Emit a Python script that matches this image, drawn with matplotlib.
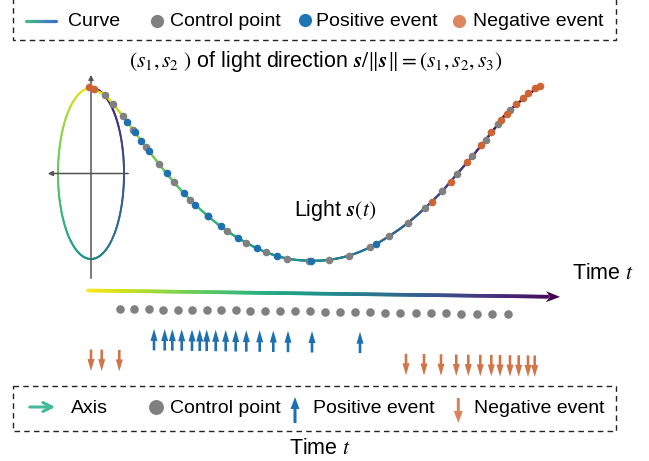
import matplotlib

matplotlib.use("Agg")
import matplotlib.pyplot as plt  # noqa: E402
import numpy as np  # noqa: E402
from matplotlib.collections import LineCollection  # noqa: E402
from matplotlib.colors import LinearSegmentedColormap  # noqa: E402
from matplotlib.patches import Polygon, Rectangle  # noqa: E402

plt.rcParams["font.family"] = ["Liberation Sans", "DejaVu Sans"]
plt.rcParams["mathtext.fontset"] = "stix"

# light path s(t): control points (pixel space of the sketch)
curve_x = [88, 104.7, 113, 123, 133.3, 145.7, 159, 173.7, 190, 207.5, 226.7, 246.3, 266.3, 287,
           308.7, 329, 349.3, 370, 389.3, 407.7, 425.3, 442, 457.3, 472.3, 485.7, 498.3, 510, 541]
curve_y = [87.5, 95, 104.3, 116.2, 130, 146.7, 164, 182, 199.5, 215.7, 230.7, 242.8, 252.3, 258.5,
           260.7, 259.8, 255.5, 247.3, 236, 223, 207.7, 191.3, 173.7, 156.3, 139.7, 124, 110, 84.5]

# events sitting on the curve
pos_x = [127, 135, 141.3, 149.2, 166.5, 183.5, 195.2, 207.5, 220.5, 237.8, 256.8, 276.7, 311, 375.7]
pos_y = [121.7, 132.3, 140.7, 151.3, 173.3, 193, 204.8, 215.7, 226.3, 238.3, 248.3, 255.8, 260.7, 244]
neg_x = [89.3, 94, 431.7, 450.7, 467, 481, 491.3, 501, 506.7, 515.7, 522.7, 528.3, 535, 540]
neg_y = [87.5, 88.7, 202, 182, 162, 145.3, 132.3, 120.3, 113.7, 103.7, 97.7, 92.7, 88.3, 85.7]

# time line: control points and event times
ctrl_t = [119.7, 134, 148.7, 163, 177.7, 192, 206.7, 221.3, 236, 250.3, 265.3, 280, 295, 310, 325,
          339.7, 355, 370.3, 385.3, 400.3, 415.7, 430.7, 446, 461.3, 477, 492.3, 508.3]
pos_t = [154, 164.7, 172.3, 181.7, 192, 199.7, 206.7, 215.7, 225.7, 235.7, 246.3, 259.7, 273.3,
         288, 312, 360]
neg_t = [91, 101.7, 119.3, 406, 424, 441, 456.3, 468.3, 480.3, 491.3, 500, 510, 518.7, 528, 534.7]

GRAY = "#808080"
BLUE = "#1f70b0"
ORANGE = "#cc6534"
cmap = plt.get_cmap("viridis_r")


def catmull_rom(xs, ys, n=30):
    p = np.column_stack([xs, ys]).astype(float)
    p = np.vstack([2 * p[0] - p[1], p, 2 * p[-1] - p[-2]])
    out, par = [], []
    for i in range(1, len(p) - 2):
        p0, p1, p2, p3 = p[i - 1], p[i], p[i + 1], p[i + 2]
        for u in np.linspace(0, 1, n, endpoint=False):
            u2, u3 = u * u, u * u * u
            pt = 0.5 * ((2 * p1) + (-p0 + p2) * u + (2 * p0 - 5 * p1 + 4 * p2 - p3) * u2
                        + (-p0 + 3 * p1 - 3 * p2 + p3) * u3)
            out.append(pt)
            par.append(i - 1 + u)
    out.append(p[-2])
    par.append(len(xs) - 1)
    return np.array(out), np.array(par) / (len(xs) - 1)


def gradient_line(ax, pts, vals, cm, lw, z=2):
    segs = np.stack([pts[:-1], pts[1:]], axis=1)
    lc = LineCollection(segs, colors=cm(vals[:-1]), linewidths=lw, capstyle="round", zorder=z)
    ax.add_collection(lc)


fig = plt.figure(figsize=(6.49, 4.61), dpi=100)
ax = fig.add_axes([0, 0, 1, 1])
ax.set_xlim(0, 649)
ax.set_ylim(461, 0)
ax.axis("off")

# (s1, s2) axes and projected ellipse
cx, cy, ea, eb = 91, 173.5, 33, 85.5
ax.annotate("", xy=(cx, 72), xytext=(cx, 281),
            arrowprops=dict(arrowstyle="-|>", color="#555555", lw=1.1, mutation_scale=7))
ax.annotate("", xy=(45, cy), xytext=(131, cy),
            arrowprops=dict(arrowstyle="-|>", color="#555555", lw=1.1, mutation_scale=7))
th = np.linspace(0, 2 * np.pi, 400)
ell = np.column_stack([cx - ea * np.sin(th), cy - eb * np.cos(th)])
gradient_line(ax, ell, th / (2 * np.pi), cmap, 1.4)

# curve s(t)
pts, par = catmull_rom(curve_x, curve_y)
gradient_line(ax, pts, par, cmap, 1.6, z=3)
ax.scatter(curve_x[1:-1], curve_y[1:-1], s=30, color=GRAY, lw=0, zorder=4)
ax.scatter(pos_x, pos_y, s=30, color=BLUE, lw=0, zorder=5)
ax.scatter(neg_x, neg_y, s=30, color=ORANGE, lw=0, zorder=5)

ax.text(316, 62, r"$(s_1, s_2\ )$ of light direction "
        r"$\boldsymbol{s}/\Vert\boldsymbol{s}\Vert = (s_1, s_2, s_3)$",
        ha="center", va="center", fontsize=15.5)
ax.text(294, 210, r"Light $\boldsymbol{s}(t)$", ha="left", va="center", fontsize=15.5)

# time axis (slightly tilted)
t0, y0, slope = 88, 290.5, 0.0135


def ty(x, off=0.0):
    return y0 + slope * (np.asarray(x) - t0) + off


tl_x = np.linspace(t0, 548, 300)
tl = np.column_stack([tl_x, ty(tl_x)])
gradient_line(ax, tl, (tl_x - t0) / (560 - t0), cmap, 2.6)
tip = np.array([560, ty(560)])
d = np.array([1, slope]) / np.hypot(1, slope)
nrm = np.array([-d[1], d[0]])
ax.add_patch(Polygon([tip, tip - 14 * d + 5.5 * nrm, tip - 10 * d, tip - 14 * d - 5.5 * nrm],
                     closed=True, color=cmap(1.0), lw=0, zorder=3))
ax.text(572, 273, r"Time $t$", ha="left", va="center", fontsize=15.5)

ax.scatter(ctrl_t, ty(ctrl_t, 18), s=38, color=GRAY, lw=0)
for x in pos_t:
    ax.arrow(x, ty(x, 59), 0, -21.5, width=2.6, head_width=7, head_length=12,
             length_includes_head=True, color=BLUE, lw=0)
for x in neg_t:
    ax.arrow(x, ty(x, 59), 0, 21.5, width=2.6, head_width=7, head_length=12,
             length_includes_head=True, color=ORANGE, alpha=0.9, lw=0)

# top legend box
ax.add_patch(Rectangle((13, -5), 603, 45.5, fill=False, ls=(0, (4, 3)), lw=1, ec="#222222"))
lg = LinearSegmentedColormap.from_list("lg", ["#45c17f", "#3f6fd0"])
lx = np.linspace(26, 56, 40)
gradient_line(ax, np.column_stack([lx, np.full_like(lx, 21)]), (lx - 26) / 30, lg, 2.3)
ax.text(68, 21, "Curve", ha="left", va="center", fontsize=14)
ax.scatter([157], [21], s=90, color=GRAY, lw=0)
ax.text(170, 21, "Control point", ha="left", va="center", fontsize=14)
ax.scatter([305], [20], s=90, color="#1f74b4", lw=0)
ax.text(316, 21, "Positive event", ha="left", va="center", fontsize=14)
ax.scatter([459], [21], s=90, color="#dc8761", lw=0)
ax.text(473, 21, "Negative event", ha="left", va="center", fontsize=14)

# bottom legend box
ax.add_patch(Rectangle((13, 386), 603, 45, fill=False, ls=(0, (4, 3)), lw=1, ec="#222222"))
ax.annotate("", xy=(58, 407), xytext=(27, 407),
            arrowprops=dict(arrowstyle="->", color="#45b99a", lw=2.2, mutation_scale=16))
ax.text(70.5, 408, "Axis", ha="left", va="center", fontsize=14)
ax.scatter([155.7], [407], s=115, color=GRAY, lw=0)
ax.text(170, 408, "Control point", ha="left", va="center", fontsize=14)
ax.arrow(295, 423, 0, -26, width=3, head_width=9, head_length=12,
         length_includes_head=True, color=BLUE, lw=0)
ax.text(313, 408, "Positive event", ha="left", va="center", fontsize=14)
ax.arrow(458.3, 398, 0, 25, width=3, head_width=9, head_length=12,
         length_includes_head=True, color="#d9825b", lw=0)
ax.text(474, 408, "Negative event", ha="left", va="center", fontsize=14)
ax.text(289, 448, r"Time $t$", ha="left", va="center", fontsize=15.5)

fig.savefig("out.png", dpi=100)
